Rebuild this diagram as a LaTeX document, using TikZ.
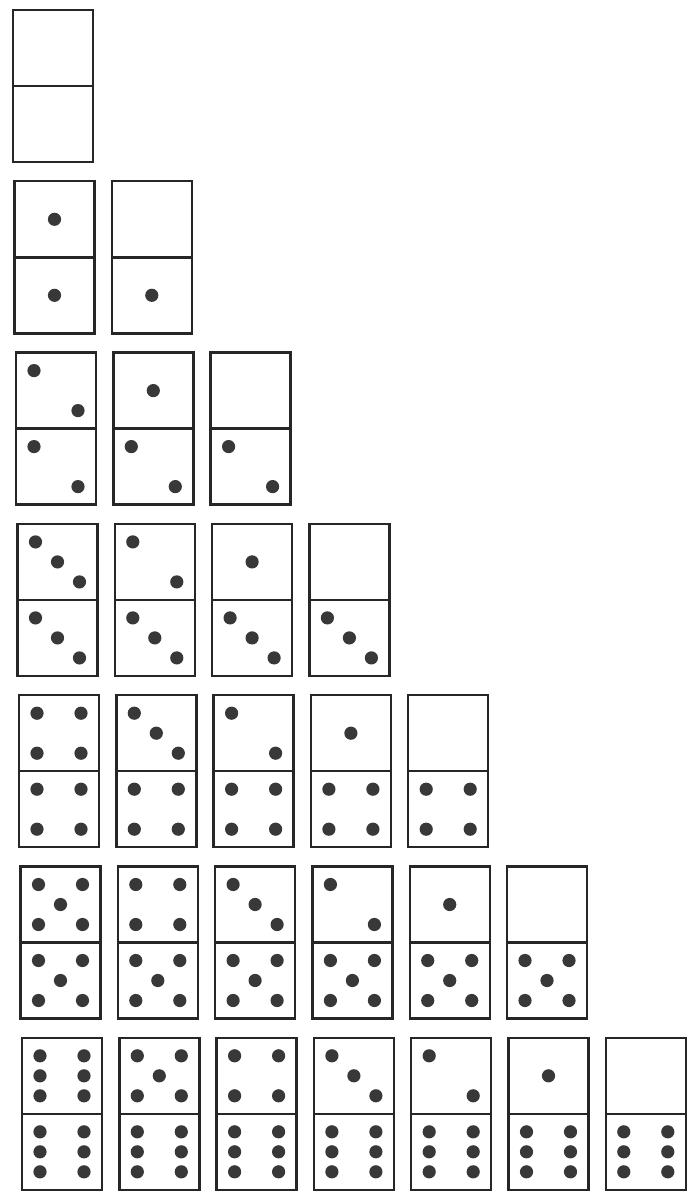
\documentclass[tikz,border=0pt]{standalone}
\newcommand\pp[2]{\fill[pipst] (#1,#2) circle (6.6pt);}
\newcommand\dpips[3]{%
  \ifcase#1\relax
  \or \pp{#2}{#3}%
  \or \pp{#2-22}{#3-20}\pp{#2+22}{#3+20}%
  \or \pp{#2-22}{#3-20}\pp{#2}{#3}\pp{#2+22}{#3+20}%
  \or \pp{#2-22}{#3-20}\pp{#2+22}{#3-20}\pp{#2-22}{#3+20}\pp{#2+22}{#3+20}%
  \or \pp{#2-22}{#3-20}\pp{#2+22}{#3-20}\pp{#2}{#3}\pp{#2-22}{#3+20}\pp{#2+22}{#3+20}%
  \or \pp{#2-22}{#3-20}\pp{#2+22}{#3-20}\pp{#2-22}{#3}\pp{#2+22}{#3}\pp{#2-22}{#3+20}\pp{#2+22}{#3+20}%
  \fi}
\begin{document}
\begin{tikzpicture}[x=1pt,y=-1pt,
  dom/.style={draw=black!85,line width=2.4pt,line join=miter},
  pipst/.style={fill=black!78}]
\useasboundingbox (0,0) rectangle (689,1193);
\foreach \r in {0,...,6}{
  \foreach \c in {0,...,\r}{
    \pgfmathsetmacro\xl{13+1.5*\r+97.3*\c}
    \pgfmathsetmacro\yt{10+171.3*\r}
    \pgfmathtruncatemacro\tv{\r-\c}
    \pgfmathsetmacro\cx{\xl+40}
    \pgfmathsetmacro\cyt{\yt+38}
    \pgfmathsetmacro\cyb{\yt+114}
    \draw[dom] (\xl,\yt) rectangle ++(80,152);
    \draw[dom] (\xl,\yt+76) -- ++(80,0);
    \dpips{\tv}{\cx}{\cyt}
    \dpips{\r}{\cx}{\cyb}
  }
}
\end{tikzpicture}
\end{document}
